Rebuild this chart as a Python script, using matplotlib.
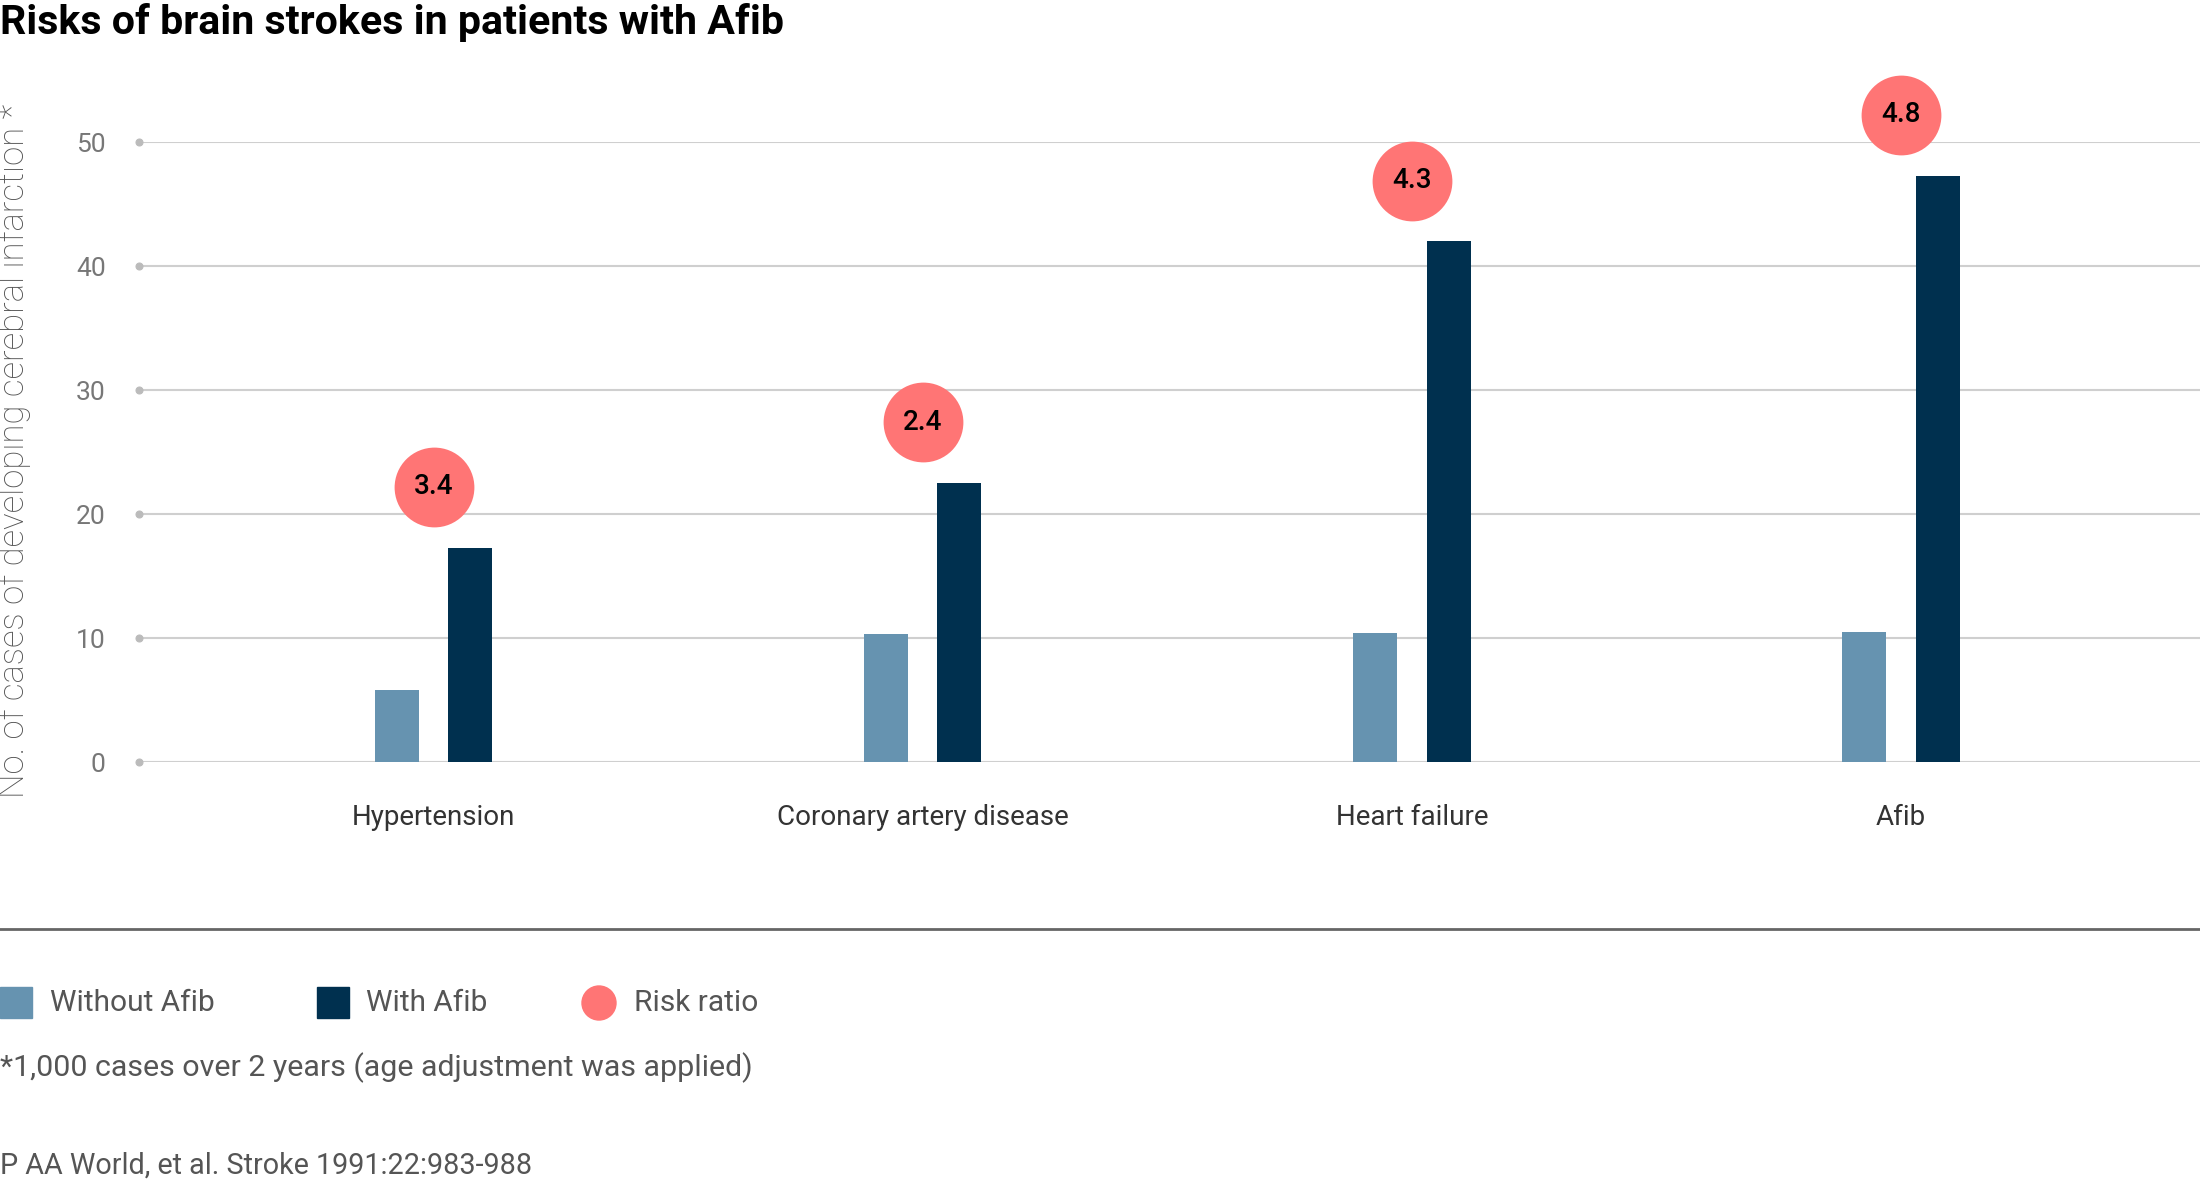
import matplotlib
matplotlib.use('Agg')
import matplotlib.pyplot as plt
import numpy as np

plt.rcParams['font.family'] = ['Roboto', 'DejaVu Sans']

categories = ['Hypertension', 'Coronary artery disease', 'Heart failure', 'Afib']
without_afib = [5.8, 10.3, 10.4, 10.5]
with_afib = [17.3, 22.5, 42.0, 47.3]
risk_ratio = [3.4, 2.4, 4.3, 4.8]
yticks = [0, 10, 20, 30, 40, 50]

c_without = '#6693B0'
c_with = '#00304F'
c_risk = '#FF7575'
c_grid = '#CFCFCF'
c_text = '#555555'

fig = plt.figure(figsize=(22, 11.8), dpi=100)
ax = fig.add_axes([0.0632, 0.3542, 0.9368, 0.5254])

x = np.arange(len(categories))
w = 0.09
ax.bar(x - 0.075, without_afib, width=w, color=c_without, zorder=3)
ax.bar(x + 0.075, with_afib, width=w, color=c_with, zorder=3)

# risk ratio bubbles sit a bit above the "with Afib" bar
bubble_y = np.array(with_afib) + 4.9
ax.scatter(x, bubble_y, s=3300, color=c_risk, zorder=4, clip_on=False, linewidths=0)
for xi, yi, r in zip(x, bubble_y, risk_ratio):
    ax.text(xi, yi, f'{r:.1f}', ha='center', va='center', fontsize=20,
            fontweight='medium', color='black', zorder=5)

ax.set_xlim(-0.602, 3.611)
ax.set_ylim(0, 50)
ax.set_yticks(yticks)
ax.set_yticklabels([str(t) for t in yticks], fontsize=19, color='#777777')
ax.set_xticks(x)
ax.set_xticklabels(categories, fontsize=20, color='#333333')
ax.tick_params(axis='x', length=0, pad=30)
ax.tick_params(axis='y', length=0, pad=24)
for t in ax.yaxis.get_major_ticks():
    t.tick1line.set_marker('o')
    t.tick1line.set_markersize(5)
    t.tick1line.set_markerfacecolor('#BBBBBB')
    t.tick1line.set_markeredgecolor('#BBBBBB')
ax.yaxis.grid(True, color=c_grid, lw=1.5, zorder=0)
for s in ax.spines.values():
    s.set_visible(False)

fig.text(0.0, 0.971, 'Risks of brain strokes in patients with Afib',
         fontsize=29.6, fontweight='bold', color='black', ha='left', va='baseline')
fig.text(0.0065, 0.618, 'No. of cases of developing cerebral infarction *',
         rotation=90, ha='center', va='center', fontsize=25, color='#555555',
         fontweight='light')

# separator line
fig.add_artist(plt.Line2D([0, 1], [1 - 929 / 1180] * 2, color='#666666', lw=2,
                          transform=fig.transFigure))

# legend
ly = 1 - 1003 / 1180
fig.add_artist(plt.Rectangle((0, ly - 15 / 1180), 32 / 2200, 31 / 1180,
                             color=c_without, transform=fig.transFigure))
fig.text(50 / 2200, ly, 'Without Afib', fontsize=21.5, color=c_text, va='center')
fig.add_artist(plt.Rectangle((317 / 2200, ly - 15 / 1180), 32 / 2200, 31 / 1180,
                             color=c_with, transform=fig.transFigure))
fig.text(366 / 2200, ly, 'With Afib', fontsize=21.5, color=c_text, va='center')
fig.add_artist(matplotlib.patches.Ellipse((599 / 2200, ly), 34 / 2200, 34 / 1180,
                                          color=c_risk, transform=fig.transFigure))
fig.text(634 / 2200, ly, 'Risk ratio', fontsize=21.5, color=c_text, va='center')

fig.text(0.0, 1 - 1068 / 1180, '*1,000 cases over 2 years (age adjustment was applied)',
         fontsize=21.9, color=c_text, va='center')
fig.text(0.0, 1 - 1166 / 1180, 'P AA World, et al. Stroke 1991:22:983-988',
         fontsize=20.7, color=c_text, va='center')

fig.savefig('out.png', dpi=100)
